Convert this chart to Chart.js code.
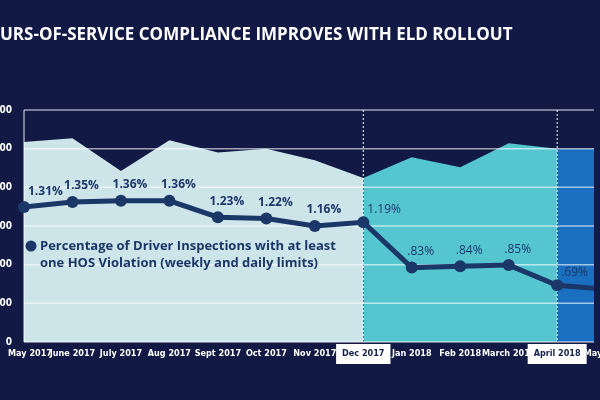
<!DOCTYPE html>
<html><head><meta charset="utf-8">
<script src="https://cdn.jsdelivr.net/npm/chart.js@4"></script>
<style>html,body{margin:0;padding:0;background:#121944;}#w{width:600px;height:400px;position:relative}</style>
</head><body><div id="w"><canvas id="c"></canvas></div>
<script>
const categories=["May 2017","June 2017","July 2017","Aug 2017","Sept 2017","Oct 2017","Nov 2017","Dec 2017","Jan 2018","Feb 2018","March 2018","April 2018","May 2018"];
const inspections=[5.17,5.27,4.42,5.22,4.9,5.0,4.7,4.24,4.78,4.52,5.14,5.0,5.0];
const violationPct=[1.31,1.35,1.36,1.36,1.23,1.22,1.16,1.19,0.83,0.84,0.85,0.69,0.66];
const pctLabels=["1.31%","1.35%","1.36%","1.36%","1.23%","1.22%","1.16%","1.19%",".83%",".84%",".85%",".69%",""];
const yTickLabels=["0","1,000","2,000","3,000","4,000","5,000","6,000"];
const phaseStarts=[7,11];
const title="HOURS-OF-SERVICE COMPLIANCE IMPROVES WITH ELD ROLLOUT";

const pts=a=>a.map((v,i)=>({x:i,y:v}));
const seg=(a,s,e)=>a.map((v,i)=>({x:i,y:(i>=s&&i<=e)?v:null}));
const navy='#1b3768';
const deco={id:'deco',
 beforeDatasetDraw(ch,args){ if(args.index!==3)return;
  const c=ch.ctx,ys=ch.scales.y,xs=ch.scales.x,a=ch.chartArea;
  c.save();c.strokeStyle='rgba(255,255,255,0.6)';c.lineWidth=1.5;
  for(let i=0;i<yTickLabels.length;i++){const y=ys.getPixelForValue(i);c.beginPath();c.moveTo(a.left,y);c.lineTo(a.right,y);c.stroke();}
  c.beginPath();c.moveTo(a.left,a.top);c.lineTo(a.left,a.bottom);c.stroke();
  c.setLineDash([2,2]);c.strokeStyle='#ffffff';c.lineWidth=1;
  phaseStarts.forEach(p=>{const x=xs.getPixelForValue(p);c.beginPath();c.moveTo(x,a.top);c.lineTo(x,a.bottom);c.stroke();});
  c.restore();},
 afterDraw(ch){const c=ch.ctx,ys=ch.scales.y,x=ch.scales.x,a=ch.chartArea;
  c.save();
  c.fillStyle='#fff';c.font='bold 17px "Open Sans", sans-serif';c.textBaseline='middle';
  const w=c.measureText("HO").width;c.fillText(title,-w,35);
  c.font='bold 10px "DejaVu Sans Condensed", sans-serif';c.textAlign='right';
  yTickLabels.forEach((t,i)=>c.fillText(t,12,ys.getPixelForValue(i)));
  c.textAlign='center';c.font='bold 9px "DejaVu Sans Condensed", sans-serif';
  categories.forEach((t,i)=>{const px=x.getPixelForValue(i)+(i===0?6:0);const hl=phaseStarts.includes(i);
   const tw=c.measureText(t).width;
   if(hl){c.fillStyle='#fff';c.fillRect(px-tw/2-6,a.bottom+2,tw+12,20);c.fillStyle='#13204a';}else c.fillStyle='#fff';
   c.fillText(t,px,a.bottom+12);});
  violationPct.forEach((v,i)=>{if(!pctLabels[i])return;const px=x.getPixelForValue(i),py=ch.scales.y2.getPixelForValue(v);
   c.font=(i<7?'bold ':'')+'12px "Open Sans", sans-serif';c.fillStyle=navy;
   if(i===7||i===11||i===0){c.textAlign='left';c.fillText(pctLabels[i],px+4,py-(i===0?16:13));}else{c.textAlign='center';c.fillText(pctLabels[i],px+9,py-16);}
  });
  c.textAlign='left';c.fillStyle=navy;c.beginPath();c.arc(31,246,5.5,0,Math.PI*2);c.fill();
  c.font='bold 13px "Open Sans", sans-serif';
  c.fillText("Percentage of Driver Inspections with at least",40,246);
  c.fillText("one HOS Violation (weekly and daily limits)",40,263);
  c.restore();}};
new Chart(document.getElementById('c'),{type:'line',
 data:{datasets:[
  {data:seg(inspections,0,7),fill:'origin',backgroundColor:'#cde4e9',borderWidth:0,pointRadius:0,yAxisID:'y',order:2},
  {data:seg(inspections,7,11),fill:'origin',backgroundColor:'#55c6d0',borderWidth:0,pointRadius:0,yAxisID:'y',order:2},
  {data:seg(inspections,11,12),fill:'origin',backgroundColor:'#1a6fc0',borderWidth:0,pointRadius:0,yAxisID:'y',order:2},
  {data:pts(violationPct),borderColor:navy,backgroundColor:navy,borderWidth:5,pointRadius:6,pointBorderWidth:0,yAxisID:'y2',tension:0,order:0,clip:{left:false,right:0,top:0,bottom:0}}
 ]},
 options:{responsive:true,maintainAspectRatio:false,animation:false,events:[],
  layout:{padding:{left:24,top:110,right:0,bottom:58}},
  plugins:{legend:{display:false},tooltip:{enabled:false}},
  scales:{x:{type:'linear',min:0,max:11.76,display:false},
   y:{min:0,max:6,display:false},
   y2:{min:0.24,max:2.08,display:false}}},
 plugins:[deco]});
</script></body></html>
